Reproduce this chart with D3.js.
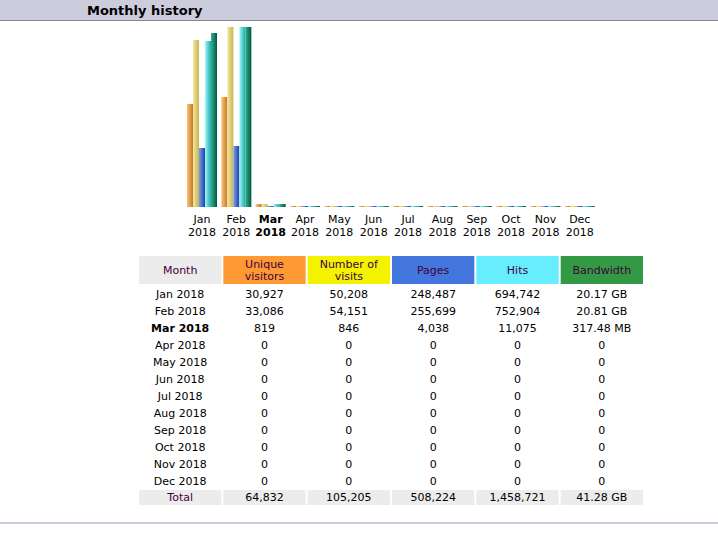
<!DOCTYPE html>
<html><head><meta charset="utf-8">
<script src="https://cdn.jsdelivr.net/npm/d3@7"></script>
<style>
body{margin:0;background:#fff;}
text{font-family:"DejaVu Sans",Verdana,sans-serif;}
</style></head><body>
<svg id="chart" width="718" height="543"></svg>
<script>
var months = ["Jan","Feb","Mar","Apr","May","Jun","Jul","Aug","Sep","Oct","Nov","Dec"];
var year = "2018";
var currentMonth = 2;
var unique = [30927,33086,819,0,0,0,0,0,0,0,0,0];
var visits = [50208,54151,846,0,0,0,0,0,0,0,0,0];
var pages = [248487,255699,4038,0,0,0,0,0,0,0,0,0];
var hits = [694742,752904,11075,0,0,0,0,0,0,0,0,0];
var bandwidthGB = [20.17,20.81,0.31,0,0,0,0,0,0,0,0,0];
var bandwidthLabels = ["20.17 GB","20.81 GB","317.48 MB","0","0","0","0","0","0","0","0","0"];
var totals = ["64,832","105,205","508,224","1,458,721","41.28 GB"];
var headers = ["Month","Unique\nvisitors","Number of\nvisits","Pages","Hits","Bandwidth"];
var headerColors = ["#ececec","#ff9933","#f3f300","#4477dd","#66eeff","#339944"];

var svg = d3.select("#chart");

// title bar
svg.append("rect").attr("x",0).attr("y",0).attr("width",718).attr("height",21).attr("fill","#ccccdd");
svg.append("rect").attr("x",0).attr("y",20).attr("width",718).attr("height",1).attr("fill","#888899");
svg.append("text").attr("x",87).attr("y",15).attr("font-size",13).attr("font-weight","bold").text("Monthly history");

// gradients
var defs = svg.append("defs");
var barColors = [["#f8c37a","#c87820"],["#f4e8a0","#c8b450"],["#7aa0f0","#2040a0"],["#9ff8f8","#20a8a8"],["#30b090","#005840"]];
barColors.forEach(function(c,i){
  var g = defs.append("linearGradient").attr("id","g"+i);
  g.append("stop").attr("offset","0%").attr("stop-color",c[0]);
  g.append("stop").attr("offset","100%").attr("stop-color",c[1]);
});

var x = d3.scaleBand().domain(months).range([187,595]).paddingInner(0.12).paddingOuter(0);
var baseY = 207, maxH = 180;
var yVisits = d3.scaleLinear().domain([0,d3.max(visits)]).range([0,maxH]);
var yHits = d3.scaleLinear().domain([0,d3.max(hits)]).range([0,maxH]);
var yBw = d3.scaleLinear().domain([0,d3.max(bandwidthGB)]).range([0,maxH]);
var series = [[unique,yVisits],[visits,yVisits],[pages,yHits],[hits,yHits],[bandwidthGB,yBw]];
var bw = 6;

series.forEach(function(s,si){
  svg.append("g").selectAll("rect").data(months).join("rect")
    .attr("x",function(m){return x(m)+si*bw;})
    .attr("width",bw)
    .attr("height",function(m,i){return Math.max(1,Math.round(s[1](s[0][i])) || (i===currentMonth?3:1));})
    .attr("y",function(m,i){return baseY - Math.max(1,Math.round(s[1](s[0][i])));})
    .attr("fill","url(#g"+si+")");
});

var lab = svg.append("g").selectAll("g").data(months).join("g");
lab.append("text").attr("x",function(m){return x(m)+15;}).attr("y",223).attr("text-anchor","middle").attr("font-size",11)
  .attr("font-weight",function(m,i){return i===currentMonth?"bold":"normal";}).text(function(m){return m;});
lab.append("text").attr("x",function(m){return x(m)+15;}).attr("y",236).attr("text-anchor","middle").attr("font-size",11)
  .attr("font-weight",function(m,i){return i===currentMonth?"bold":"normal";}).text(year);

// table
var colX = d3.scaleBand().domain(d3.range(6)).range([139,643]).paddingInner(2/84).paddingOuter(0);
var hdr = svg.append("g").selectAll("g").data(headers).join("g");
hdr.append("rect").attr("x",function(d,i){return colX(i);}).attr("y",256).attr("width",colX.bandwidth()).attr("height",28)
  .attr("fill",function(d,i){return headerColors[i];});
hdr.each(function(d,i){
  var lines = d.split("\n");
  var t = d3.select(this).append("text").attr("text-anchor","middle").attr("font-size",11).attr("fill","#400040");
  lines.forEach(function(l,k){
    t.append("tspan").attr("x",colX(i)+colX.bandwidth()/2)
      .attr("y",lines.length===1?274:268+k*12).text(l);
  });
});

var rowY = d3.scaleLinear().domain([0,1]).range([298,315]);
var fmt = d3.format(",");
var rows = months.map(function(m,i){
  return [m+" "+year, fmt(unique[i]), fmt(visits[i]), fmt(pages[i]), fmt(hits[i]), bandwidthLabels[i]];
});
rows.forEach(function(r,ri){
  svg.append("g").selectAll("text").data(r).join("text")
    .attr("x",function(d,i){return colX(i)+colX.bandwidth()/2;})
    .attr("y",rowY(ri)).attr("text-anchor","middle").attr("font-size",11)
    .attr("font-weight",function(d,i){return i===0&&ri===currentMonth?"bold":"normal";})
    .text(function(d){return d;});
});
var totRow = ["Total"].concat(totals);
svg.append("g").selectAll("rect").data(totRow).join("rect")
  .attr("x",function(d,i){return colX(i);}).attr("y",490).attr("width",colX.bandwidth()).attr("height",15).attr("fill","#ececec");
svg.append("g").selectAll("text").data(totRow).join("text")
  .attr("x",function(d,i){return colX(i)+colX.bandwidth()/2;}).attr("y",rowY(12)-1)
  .attr("text-anchor","middle").attr("font-size",11).attr("fill",function(d,i){return i===0?"#400040":"#000";})
  .text(function(d){return d;});

svg.append("rect").attr("x",0).attr("y",522).attr("width",718).attr("height",2).attr("fill","#ccccdd");
</script>
</body></html>
